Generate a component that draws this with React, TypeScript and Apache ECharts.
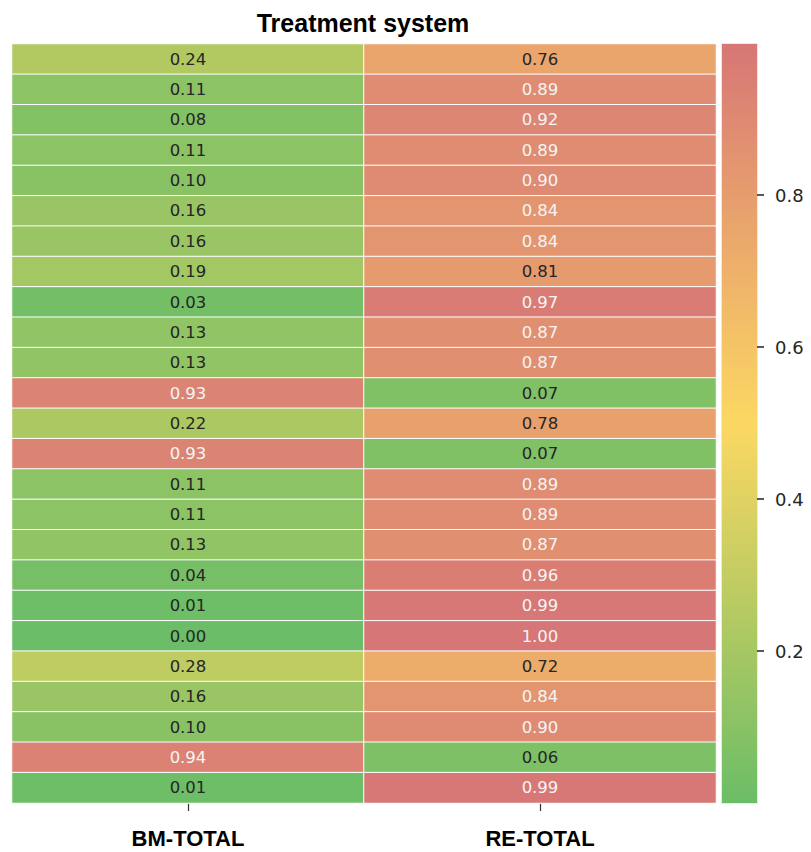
import React, { useEffect, useRef } from "react";
import * as echarts from "echarts";

const columns = ["BM-TOTAL", "RE-TOTAL"];
const bmValues = [0.24, 0.11, 0.08, 0.11, 0.10, 0.16, 0.16, 0.19, 0.03, 0.13, 0.13, 0.93, 0.22, 0.93, 0.11, 0.11, 0.13, 0.04, 0.01, 0.00, 0.28, 0.16, 0.10, 0.94, 0.01];
const reValues = [0.76, 0.89, 0.92, 0.89, 0.90, 0.84, 0.84, 0.81, 0.97, 0.87, 0.87, 0.07, 0.78, 0.07, 0.89, 0.89, 0.87, 0.96, 0.99, 1.00, 0.72, 0.84, 0.90, 0.06, 0.99];
const colorbarTicks = [0.2, 0.4, 0.6, 0.8];
const colorStops = ["#6bbd67", "#b5ca62", "#fcd862", "#eaa76c", "#d77676"];

export default function App() {
  const ref = useRef<HTMLDivElement>(null);
  useEffect(() => {
    if (!ref.current) return;
    const chart = echarts.init(ref.current, undefined, { renderer: "svg" });
    const rows = bmValues.map((_, i) => String(i));
    const data: any[] = [];
    [bmValues, reValues].forEach((vals, c) => {
      vals.forEach((v, r) => {
        data.push({
          value: [c, r, v],
          label: { color: v > 0.82 ? "#f4f4f4" : "#262626" },
        });
      });
    });
    const barTop = 43;
    const barH = 760;
    const tMin = colorbarTicks[0];
    const tMax = colorbarTicks[colorbarTicks.length - 1];
    const gradient = new echarts.graphic.LinearGradient(
      0, 1, 0, 0,
      colorStops.map((c, i) => ({ offset: i / (colorStops.length - 1), color: c }))
    );
    chart.setOption({
      animation: false,
      backgroundColor: "#ffffff",
      title: {
        text: "Treatment system",
        left: 358,
        top: 5,
        textAlign: "center",
        textStyle: { fontFamily: "Liberation Sans, Arial, sans-serif", fontWeight: "bold", fontSize: 25, color: "#000" },
      },
      graphic: [
        {
          type: "rect",
          z: -1,
          left: 721,
          top: barTop,
          shape: { width: 36, height: barH },
          style: { fill: gradient, stroke: "#f6e3e3", lineWidth: 1 },
          silent: true,
        },
      ],
      grid: [
        { left: 12, top: 44, width: 704, height: 759 },
        { left: 721, top: barTop + (1 - tMax) * barH, width: 36, height: (tMax - tMin) * barH },
      ],
      xAxis: [
        {
          gridIndex: 0,
          type: "category",
          data: columns,
          position: "bottom",
          axisLine: { show: false },
          axisTick: { show: true, length: 8, alignWithLabel: true, lineStyle: { color: "#333", width: 1.2 } },
          axisLabel: { margin: 24, fontFamily: "Liberation Sans, Arial, sans-serif", fontWeight: "bold", fontSize: 22, color: "#000" },
          splitLine: { show: false },
        },
        { gridIndex: 1, type: "value", show: false, min: tMin, max: tMax },
      ],
      yAxis: [
        { gridIndex: 0, type: "category", data: rows, inverse: true, show: false },
        {
          gridIndex: 1,
          type: "value",
          min: tMin,
          max: tMax,
          interval: 0.2,
          position: "right",
          axisLine: { show: false },
          splitLine: { show: false },
          axisTick: { show: false },
          axisLabel: {
            margin: 0,
            showMinLabel: true,
            showMaxLabel: true,
            fontFamily: "DejaVu Sans, sans-serif",
            fontSize: 18,
            color: "#262626",
            formatter: (v: number) => "{t|}{g|}" + v.toFixed(1),
            rich: {
              t: { width: 7, height: 1.5, lineHeight: 1.5, backgroundColor: "#222" },
              g: { width: 11 },
            },
          },
        },
      ],
      visualMap: {
        type: "continuous",
        show: false,
        min: 0,
        max: 1,
        seriesIndex: 0,
        inRange: { color: colorStops },
      },
      series: [
        {
          type: "heatmap",
          xAxisIndex: 0,
          yAxisIndex: 0,
          data,
          label: {
            show: true,
            fontFamily: "DejaVu Sans, sans-serif",
            fontSize: 16.5,
            formatter: (p: any) => p.value[2].toFixed(2),
          },
          itemStyle: { borderColor: "#ffffff", borderWidth: 1 },
          emphasis: { disabled: true },
        },
        { type: "scatter", xAxisIndex: 1, yAxisIndex: 1, data: [] },
      ],
    });
    return () => chart.dispose();
  }, []);
  return <div ref={ref} style={{ position: "fixed", left: 0, top: 0, width: 811, height: 852 }} />;
}
